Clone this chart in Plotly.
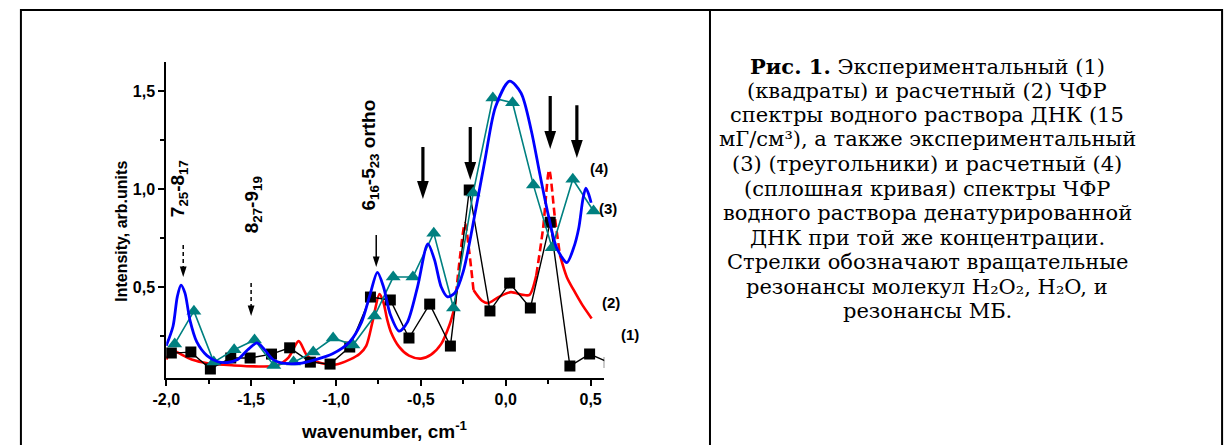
import plotly.graph_objects as go

W, H = 1229, 445

# ---------------- data ----------------
# (1) experimental, squares
sq_x = [-1.97, -1.855, -1.74, -1.62, -1.506, -1.38, -1.273, -1.151, -1.035, -0.919,
        -0.797, -0.68, -0.57, -0.448, -0.326, -0.215, -0.093, 0.023, 0.145, 0.262,
        0.378, 0.494, 0.61]
sq_y = [0.163, 0.168, 0.082, 0.138, 0.138, 0.158, 0.19, 0.117, 0.107, 0.194,
        0.449, 0.434, 0.24, 0.413, 0.199, 0.995, 0.378, 0.52, 0.393, 0.83,
        0.097, 0.158, 0.115]

# (3) experimental, triangles
tri_x = [-1.95, -1.837, -1.72, -1.60, -1.48, -1.366, -1.25, -1.134, -1.017, -0.90,
         -0.773, -0.663, -0.547, -0.424, -0.308, -0.192, -0.076, 0.04, 0.163, 0.273,
         0.395, 0.517]
tri_y = [0.21, 0.377, 0.117, 0.18, 0.23, 0.10, 0.117, 0.168, 0.24, 0.204,
         0.352, 0.551, 0.551, 0.775, 0.393, 0.98, 1.464, 1.44, 1.02, 0.70,
         1.05, 0.888]

# (4) calculated, blue curve
blue_x = [-2.00, -1.96, -1.935, -1.913, -1.89, -1.86, -1.82, -1.76, -1.70, -1.64,
          -1.58, -1.52, -1.465, -1.42, -1.37, -1.30, -1.22, -1.12, -1.02, -0.92,
          -0.85, -0.80, -0.756, -0.72, -0.68, -0.628, -0.58, -0.52, -0.459, -0.42,
          -0.38, -0.343, -0.30, -0.25, -0.18, -0.12, -0.06, 0.023, 0.09, 0.15,
          0.20, 0.25, 0.30, 0.36, 0.40, 0.43, 0.455, 0.472, 0.49, 0.503]
blue_y = [0.20, 0.30, 0.45, 0.51, 0.47, 0.33, 0.22, 0.15, 0.12, 0.115,
          0.13, 0.18, 0.215, 0.18, 0.13, 0.11, 0.11, 0.13, 0.16, 0.22,
          0.32, 0.46, 0.575, 0.50, 0.36, 0.275, 0.32, 0.50, 0.72, 0.64,
          0.50, 0.45, 0.47, 0.58, 0.88, 1.16, 1.42, 1.55, 1.49, 1.30,
          1.08, 0.87, 0.70, 0.625, 0.70, 0.80, 0.95, 1.005, 0.97, 0.93]

# (2) calculated, red curve: solid / dashed / solid / dashed / solid parts
red1_x = [-2.00, -1.965, -1.93, -1.85, -1.75, -1.60, -1.45, -1.35, -1.28, -1.22,
          -1.17, -1.10, -1.00, -0.92, -0.86, -0.822, -0.783, -0.744, -0.72, -0.70,
          -0.676, -0.628, -0.57, -0.50, -0.44, -0.38, -0.33, -0.30]
red1_y = [0.13, 0.18, 0.165, 0.13, 0.11, 0.10, 0.095, 0.10, 0.14, 0.224,
          0.15, 0.115, 0.105, 0.13, 0.16, 0.20, 0.33, 0.464, 0.42, 0.34,
          0.27, 0.195, 0.15, 0.135, 0.155, 0.21, 0.31, 0.40]
red2_x = [-0.30, -0.27, -0.24, -0.215, -0.19]
red2_y = [0.40, 0.65, 0.826, 0.68, 0.485]
red3_x = [-0.19, -0.14, -0.105, -0.04, 0.03, 0.10, 0.14, 0.18]
red3_y = [0.485, 0.43, 0.418, 0.45, 0.474, 0.46, 0.46, 0.56]
red4_x = [0.18, 0.22, 0.256, 0.29, 0.32]
red4_y = [0.56, 0.80, 1.097, 0.85, 0.66]
red5_x = [0.32, 0.36, 0.40, 0.45, 0.506]
red5_y = [0.66, 0.55, 0.485, 0.41, 0.34]

# axis ticks
x_tickvals = [-2.0, -1.5, -1.0, -0.5, 0.0, 0.5]
x_ticktext = ["-2,0", "-1,5", "-1,0", "-0,5", "0,0", "0,5"]
x_minor = [-1.75, -1.25, -0.75, -0.25, 0.25]
y_tickvals = [0.5, 1.0, 1.5]
y_ticktext = ["0,5", "1,0", "1,5"]
y_minor = [0.25, 0.75, 1.25]
x_range = [-2.0, 0.58]
y_range = [0.036, 1.648]

# arrows
thick_x = [-0.488, -0.209, 0.262, 0.419]
thick_top = [1.214, 1.316, 1.474, 1.428]
thick_tip = [0.949, 1.046, 1.204, 1.158]
dashed_x = [-1.90, -1.50]
dashed_top = [0.714, 0.52]
dashed_tip = [0.551, 0.352]
thin_x = [-0.763]
thin_top = [0.765]
thin_tip = [0.602]

# text labels
lbl_text = ["7<sub>25</sub>-8<sub>17</sub>", "8<sub>27</sub>-9<sub>19</sub>",
            "6<sub>16</sub>-5<sub>23</sub> ortho"]
lbl_x = [-1.924, -1.488, -0.797]
lbl_y = [1.0, 0.918, 1.173]
num_text = ["(4)", "(3)", "(2)", "(1)"]
num_x = [0.552, 0.605, 0.622, 0.733]
num_y = [1.107, 0.903, 0.42, 0.26]

caption_lines = [
    "<b>Рис. 1.</b> Экспериментальный (1)",
    "(квадраты) и расчетный (2) ЧФР",
    "спектры водного раствора ДНК (15",
    "мГ/см³), а также экспериментальный",
    "(3) (треугольники) и расчетный (4)",
    "(сплошная кривая) спектры ЧФР",
    "водного раствора денатурированной",
    "ДНК при той же концентрации.",
    "Стрелки обозначают вращательные",
    "резонансы молекул H₂O₂, H₂O, и",
    "резонансы МБ.",
]

# ---------------- layout geometry ----------------
XD = [154 / W, 597 / W]
YD = [1 - 378 / H, 1 - 62 / H]
px_per_y = (YD[1] - YD[0]) * H / (y_range[1] - y_range[0])


def to_paper_x(x):
    return XD[0] + (x - x_range[0]) / (x_range[1] - x_range[0]) * (XD[1] - XD[0])


def to_paper_y(y):
    return YD[0] + (y - y_range[0]) / (y_range[1] - y_range[0]) * (YD[1] - YD[0])


RED = "#ff0000"
BLUE = "#0000ff"
TEAL = "#008080"

fig = go.Figure()

for xs, ys, dash in [(red1_x, red1_y, "solid"), (red2_x, red2_y, "8px,4px"),
                     (red3_x, red3_y, "solid"), (red4_x, red4_y, "8px,4px"),
                     (red5_x, red5_y, "solid")]:
    fig.add_trace(go.Scatter(x=xs, y=ys, mode="lines",
                             line=dict(color=RED, width=2.6, shape="spline", smoothing=0.8, dash=dash),
                             hoverinfo="skip"))

fig.add_trace(go.Scatter(x=sq_x, y=sq_y, mode="lines+markers",
                         line=dict(color="black", width=1.4),
                         marker=dict(symbol="square", size=11, color="black")))
fig.add_trace(go.Scatter(x=tri_x, y=tri_y, mode="lines+markers",
                         line=dict(color=TEAL, width=1.6),
                         marker=dict(symbol="triangle-up", size=13, color=TEAL)))
fig.add_trace(go.Scatter(x=blue_x, y=blue_y, mode="lines",
                         line=dict(color=BLUE, width=2.8, shape="spline", smoothing=0.8)))


def arrows(xs, tops, tips, lw, head_size, head_len_px, dash):
    sx, sy = [], []
    for x, t, p in zip(xs, tops, tips):
        sx += [x, x, None]
        sy += [t, p + (head_len_px - 1) / px_per_y, None]
    fig.add_trace(go.Scatter(x=sx, y=sy, mode="lines",
                             line=dict(color="black", width=lw, dash=dash), hoverinfo="skip"))
    fig.add_trace(go.Scatter(x=xs, y=tips, mode="markers", hoverinfo="skip",
                             marker=dict(symbol="arrow", angle=180, size=head_size, color="black",
                                         line=dict(width=0))))


arrows(thick_x, thick_top, thick_tip, 3.2, 19, 18, "solid")
arrows(dashed_x, dashed_top, dashed_tip, 1.5, 11, 10, "4px,3px")
arrows(thin_x, thin_top, thin_tip, 1.5, 11, 10, "solid")

ann = []
for t, x, y in zip(lbl_text, lbl_x, lbl_y):
    ann.append(dict(text="<b>" + t + "</b>", x=x, y=y, xref="x", yref="y", showarrow=False,
                    textangle=-90, font=dict(family="Liberation Sans", size=19, color="black"),
                    xanchor="center", yanchor="middle"))
for t, x, y in zip(num_text, num_x, num_y):
    ann.append(dict(text="<b>" + t + "</b>", x=to_paper_x(x), y=to_paper_y(y), xref="paper", yref="paper",
                    showarrow=False, font=dict(family="Liberation Sans", size=15, color="black"),
                    xanchor="center", yanchor="middle"))
ann.append(dict(text="<b>Intensity, arb.units</b>", x=108 / W, y=1 - 231 / H, xref="paper", yref="paper",
                showarrow=False, textangle=-90, xanchor="center", yanchor="middle",
                font=dict(family="Liberation Sans", size=16, color="black")))
ann.append(dict(text="<b>wavenumber, cm<sup>-1</sup></b>", x=375 / W, y=1 - 430 / H, xref="paper", yref="paper",
                showarrow=False, xanchor="center", yanchor="middle",
                font=dict(family="Liberation Sans", size=19, color="black")))
for i, line in enumerate(caption_lines):
    ann.append(dict(text=line, x=924 / W, y=1 - (66 + 24.5 * i) / H, xref="paper", yref="paper",
                    showarrow=False, xanchor="center", yanchor="middle", borderpad=0,
                    font=dict(family="DejaVu Serif", size=21, color="black")))

shapes = [
    dict(type="rect", xref="paper", yref="paper", x0=7 / W, x1=1222 / W, y0=1 - 460 / H, y1=1 - 10 / H,
         line=dict(color="black", width=2)),
    dict(type="line", xref="paper", yref="paper", x0=704 / W, x1=704 / W, y0=1 - 460 / H, y1=1 - 10 / H,
         line=dict(color="black", width=2)),
]

axis_common = dict(showline=True, linecolor="black", linewidth=2, ticks="outside", ticklen=6,
                   tickwidth=2, tickcolor="black", showgrid=False, zeroline=False,
                   tickfont=dict(family="Liberation Sans", size=16, color="black", weight="bold"))

fig.update_layout(
    width=W, height=H, margin=dict(l=0, r=0, t=0, b=0),
    paper_bgcolor="white", plot_bgcolor="white", showlegend=False,
    xaxis=dict(domain=XD, range=x_range, tickmode="array", tickvals=x_tickvals, ticktext=x_ticktext,
               minor=dict(tickmode="array", tickvals=x_minor, ticks="outside", ticklen=4,
                          tickwidth=1.5, tickcolor="black"),
               **axis_common),
    yaxis=dict(domain=YD, range=y_range, tickmode="array", tickvals=y_tickvals, ticktext=y_ticktext,
               minor=dict(tickmode="array", tickvals=y_minor, ticks="outside", ticklen=4,
                          tickwidth=1.5, tickcolor="black"),
               **axis_common),
    annotations=ann, shapes=shapes,
)

fig.write_html("out.html", config={"displayModeBar": False},
               post_script="document.body.style.margin='0';document.body.style.overflow='hidden';")
